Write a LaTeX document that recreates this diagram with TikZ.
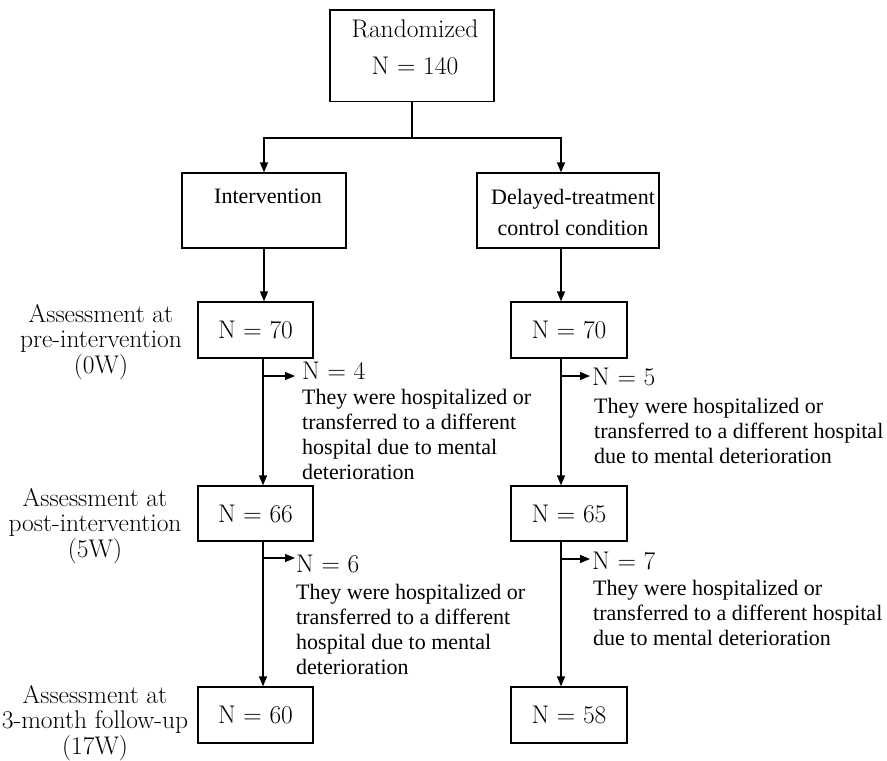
\documentclass[tikz,border=0pt]{standalone}
\usepackage{fontspec}
\newfontfamily\timesf{Liberation Serif}
\usetikzlibrary{arrows.meta}
\begin{document}
\begin{tikzpicture}[x=1pt,y=-1pt,
  box/.style={draw, line width=1.3pt, inner sep=0pt, font=\fontsize{25.5}{25.5}\selectfont},
  arr/.style={-{Triangle[length=10pt,width=8pt]}, line width=1.3pt},
  ln/.style={line width=1.3pt},
  lm/.style={inner sep=0pt, font=\fontsize{25.5}{25.5}\selectfont},
  tm/.style={inner sep=0pt, font=\timesf\fontsize{22}{25}\selectfont},
]
\useasboundingbox (0,0) rectangle (887,761);

% boxes
\node[box, minimum width=164pt, minimum height=91.5pt] (rand) at (412,55.8) {};
\node[lm, anchor=base] (randt) at (415,37) {Randomized};
\node[lm, anchor=base] (randn) at (415,74) {N = 140};

\node[box, minimum width=164pt, minimum height=75pt] (int) at (264,210.5) {};
\node[tm, anchor=base] (intt) at (268,203) {Intervention};

\node[box, minimum width=182pt, minimum height=75pt] (del) at (568,210.5) {};
\node[tm, anchor=base] (delt1) at (573,204) {Delayed-treatment};
\node[tm, anchor=base] (delt2) at (573,235) {control condition};

\node[box, minimum width=115pt, minimum height=56pt] (a1) at (255.5,330) {N = 70};
\node[box, minimum width=116pt, minimum height=56pt] (b1) at (569,330) {N = 70};
\node[box, minimum width=115pt, minimum height=55pt] (a2) at (255.5,513.5) {N = 66};
\node[box, minimum width=116pt, minimum height=55pt] (b2) at (569,513.5) {N = 65};
\node[box, minimum width=115pt, minimum height=56pt] (a3) at (255.5,715) {N = 60};
\node[box, minimum width=116pt, minimum height=56pt] (b3) at (569,715) {N = 58};

% left labels (base = last line baseline)
\node[lm, anchor=base, align=center] (lab1) at (101,373) {Assessment at\\pre-intervention\\(0W)};
\node[lm, anchor=base, align=center] (lab2) at (95,557) {Assessment at\\post-intervention\\(5W)};
\node[lm, anchor=base, align=center] (lab3) at (95,754) {Assessment at\\3-month follow-up\\(17W)};

% dropout texts
\node[lm, anchor=base west] (n4) at (302,379) {N = 4};
\node[tm, anchor=base west, align=left] (t4) at (302,479) {They were hospitalized or\\transferred to a different\\hospital due to mental\\deterioration};
\node[lm, anchor=base west] (n5) at (592,385) {N = 5};
\node[tm, anchor=base west, align=left] (t5) at (594,463) {They were hospitalized or\\transferred to a different hospital\\due to mental deterioration};
\node[lm, anchor=base west] (n6) at (296,572) {N = 6};
\node[tm, anchor=base west, align=left] (t6) at (296,674) {They were hospitalized or\\transferred to a different\\hospital due to mental\\deterioration};
\node[lm, anchor=base west] (n7) at (592,569) {N = 7};
\node[tm, anchor=base west, align=left] (t7) at (593,645) {They were hospitalized or\\transferred to a different hospital\\due to mental deterioration};

% connectors
\coordinate (split) at (412,138);
\draw[ln] (rand.south) -- (split);
\draw[arr] (split) -| (int.north);
\draw[arr] (split) -| ([xshift=-7pt]del.north);

\draw[arr] (int.south) -- (int.south |- a1.north);
\draw[arr] ([xshift=-7pt]del.south) -- ([xshift=-7pt]del.south |- b1.north);

\draw[arr] ([xshift=7.5pt]a1.south) -- ([xshift=7.5pt]a2.north);
\draw[arr] ([xshift=-8pt]b1.south) -- ([xshift=-8pt]b2.north);
\draw[arr] ([xshift=7.5pt]a2.south) -- ([xshift=7.5pt]a3.north);
\draw[arr] ([xshift=-8pt]b2.south) -- ([xshift=-8pt]b3.north);

\coordinate (ba1) at (263,376);
\coordinate (bb1) at (561,376);
\coordinate (ba2) at (263,558);
\coordinate (bb2) at (561,559);
\draw[arr] (ba1) -- (295,376);
\draw[arr] (bb1) -- (590,376);
\draw[arr] (ba2) -- (295,558);
\draw[arr] (bb2) -- (590,559);
\end{tikzpicture}
\end{document}
